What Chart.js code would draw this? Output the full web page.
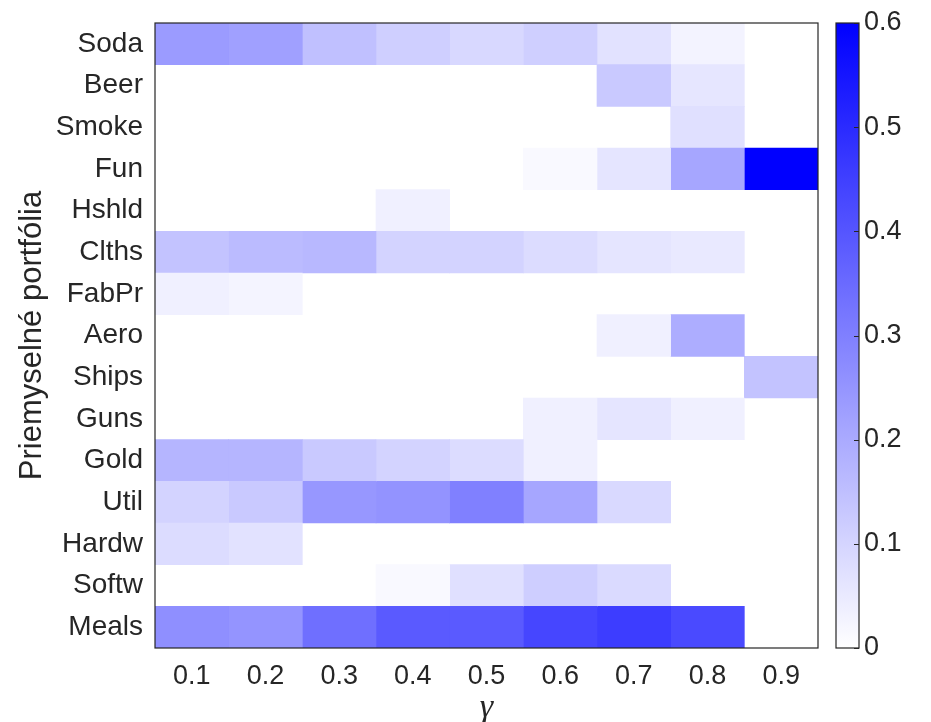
<!DOCTYPE html>
<html>
<head>
<meta charset="utf-8">
<script src="https://cdn.jsdelivr.net/npm/chart.js@4.4.1/dist/chart.umd.min.js"></script>
<style>
  body { margin: 0; background: #fff; }
  #wrap { position: relative; width: 931px; height: 722px; }
  #heat { position: absolute; left: 0; top: 0; }
  #bar { position: absolute; left: 820px; top: 0; }
</style>
</head>
<body>
<div id="wrap">
  <canvas id="heat" width="931" height="722"></canvas>
  <canvas id="bar" width="111" height="722"></canvas>
</div>
<script>
// gamma hodnoty (stlpce)
const gammas = [0.1, 0.2, 0.3, 0.4, 0.5, 0.6, 0.7, 0.8, 0.9];
const portfolios = ['Soda', 'Beer', 'Smoke', 'Fun', 'Hshld', 'Clths', 'FabPr', 'Aero',
                    'Ships', 'Guns', 'Gold', 'Util', 'Hardw', 'Softw', 'Meals'];
const colorTicks = [0, 0.1, 0.2, 0.3, 0.4, 0.5, 0.6];

// vahy portfolii pre kazde gamma
const soda  = [0.235, 0.224, 0.148, 0.113, 0.092, 0.113, 0.068, 0.028, 0];
const beer  = [0, 0, 0, 0, 0, 0, 0.127, 0.059, 0];
const smoke = [0, 0, 0, 0, 0, 0, 0, 0.073, 0];
const fun   = [0, 0, 0, 0, 0, 0.014, 0.061, 0.209, 0.6];
const hshld = [0, 0, 0, 0.035, 0, 0, 0, 0, 0];
const clths = [0.141, 0.160, 0.167, 0.104, 0.104, 0.082, 0.061, 0.052, 0];
const fabpr = [0.035, 0.026, 0, 0, 0, 0, 0, 0, 0];
const aero  = [0, 0, 0, 0, 0, 0, 0.035, 0.193, 0];
const ships = [0, 0, 0, 0, 0, 0, 0, 0, 0.141];
const guns  = [0, 0, 0, 0, 0, 0.035, 0.061, 0.035, 0];
const gold  = [0.174, 0.174, 0.127, 0.104, 0.082, 0.035, 0, 0, 0];
const util  = [0.104, 0.127, 0.245, 0.254, 0.299, 0.209, 0.089, 0, 0];
const hardw = [0.082, 0.068, 0, 0, 0, 0, 0, 0, 0];
const softw = [0, 0, 0, 0.014, 0.073, 0.115, 0.087, 0, 0];
const meals = [0.264, 0.252, 0.339, 0.388, 0.388, 0.435, 0.456, 0.426, 0];

const rows = [soda, beer, smoke, fun, hshld, clths, fabpr, aero, ships, guns, gold, util, hardw, softw, meals];
const vmax = 0.6;
const textColor = '#262626';

function cellColor(v) {
    const c = Math.round(255 * (1 - Math.min(v, vmax) / vmax));
    return `rgb(${c}, ${c}, 255)`;
}

/* ram okolo grafu */
const boxPlugin = {
    id: 'box',
    afterDraw(chart) {
        const a = chart.chartArea;
        const ctx = chart.ctx;
        ctx.save();
        ctx.strokeStyle = textColor;
        ctx.lineWidth = 1.2;
        ctx.strokeRect(a.left, a.top, a.right - a.left, a.bottom - a.top);
        ctx.restore();
    }
};

/* kratke ciarky na farebnej skale (dovnutra) */
const cbTicksPlugin = {
    id: 'cbTicks',
    afterDraw(chart) {
        const a = chart.chartArea;
        const s = chart.scales.y;
        const ctx = chart.ctx;
        ctx.save();
        ctx.strokeStyle = textColor;
        ctx.lineWidth = 1;
        colorTicks.forEach(function(v) {
            const y = Math.round(s.getPixelForValue(v)) + 0.5;
            ctx.beginPath();
            ctx.moveTo(a.right - 5, y);
            ctx.lineTo(a.right, y);
            ctx.stroke();
        });
        ctx.restore();
    }
};

/* heatmapa - kazdy stlpec gamma je jeden dataset plavajucich stlpcov */
const datasets = gammas.map(function(g, j) {
    return {
        label: String(g),
        data: rows.map(r => r[j] > 0 ? [g - 0.05, g + 0.05] : null),
        backgroundColor: rows.map(r => cellColor(r[j])),
        borderWidth: 0,
        barPercentage: 1,
        categoryPercentage: 1,
        grouped: false
    };
});

new Chart(document.getElementById('heat'), {
    type: 'bar',
    data: { labels: portfolios, datasets: datasets },
    options: {
        responsive: false,
        animation: false,
        indexAxis: 'y',
        layout: { padding: { left: 0, top: 23, right: 113, bottom: 0 } },
        plugins: { legend: { display: false }, tooltip: { enabled: false } },
        scales: {
            x: {
                type: 'linear',
                min: 0.05,
                max: 0.95,
                afterBuildTicks: s => { s.ticks = gammas.map(v => ({ value: v })); },
                afterFit: s => { s.height = 74; },
                grid: { display: false, drawTicks: false },
                border: { display: false },
                ticks: {
                    color: textColor,
                    padding: 12,
                    font: { family: 'Liberation Sans', size: 27 }
                },
                title: {
                    display: true,
                    text: 'γ',
                    color: textColor,
                    padding: { top: 0, bottom: 0 },
                    font: { family: 'Liberation Serif', size: 34, style: 'italic', lineHeight: 0.8 }
                }
            },
            y: {
                afterFit: s => { s.width = 155; },
                grid: { display: false, drawTicks: false },
                border: { display: false },
                ticks: {
                    color: textColor,
                    padding: 12,
                    font: { family: 'Liberation Sans', size: 28, lineHeight: 0.7 }
                },
                title: {
                    display: true,
                    text: 'Priemyselné portfólia',
                    color: textColor,
                    padding: { top: 14, bottom: 0 },
                    font: { family: 'Liberation Sans', size: 31 }
                }
            }
        }
    },
    plugins: [boxPlugin]
});

/* farebna skala */
new Chart(document.getElementById('bar'), {
    type: 'bar',
    data: {
        labels: [''],
        datasets: [{
            data: [[0, vmax]],
            borderWidth: 0,
            barPercentage: 1,
            categoryPercentage: 1,
            backgroundColor: function(context) {
                const a = context.chart.chartArea;
                if (!a) return '#8080ff';
                const g = context.chart.ctx.createLinearGradient(0, a.bottom, 0, a.top);
                g.addColorStop(0, '#ffffff');
                g.addColorStop(1, '#0000ff');
                return g;
            }
        }]
    },
    options: {
        responsive: false,
        animation: false,
        layout: { padding: { left: 16, top: 23, right: 0, bottom: 74 } },
        plugins: { legend: { display: false }, tooltip: { enabled: false } },
        scales: {
            x: { display: false },
            y: {
                position: 'right',
                min: 0,
                max: vmax,
                afterBuildTicks: s => { s.ticks = colorTicks.map(v => ({ value: v })); },
                afterFit: s => { s.width = 72; },
                grid: { display: false, drawTicks: false },
                border: { display: false },
                ticks: {
                    color: textColor,
                    padding: 5,
                    font: { family: 'Liberation Sans', size: 27 },
                    callback: v => v === 0 ? '0' : v.toFixed(1)
                }
            }
        }
    },
    plugins: [boxPlugin, cbTicksPlugin]
});
</script>
</body>
</html>
